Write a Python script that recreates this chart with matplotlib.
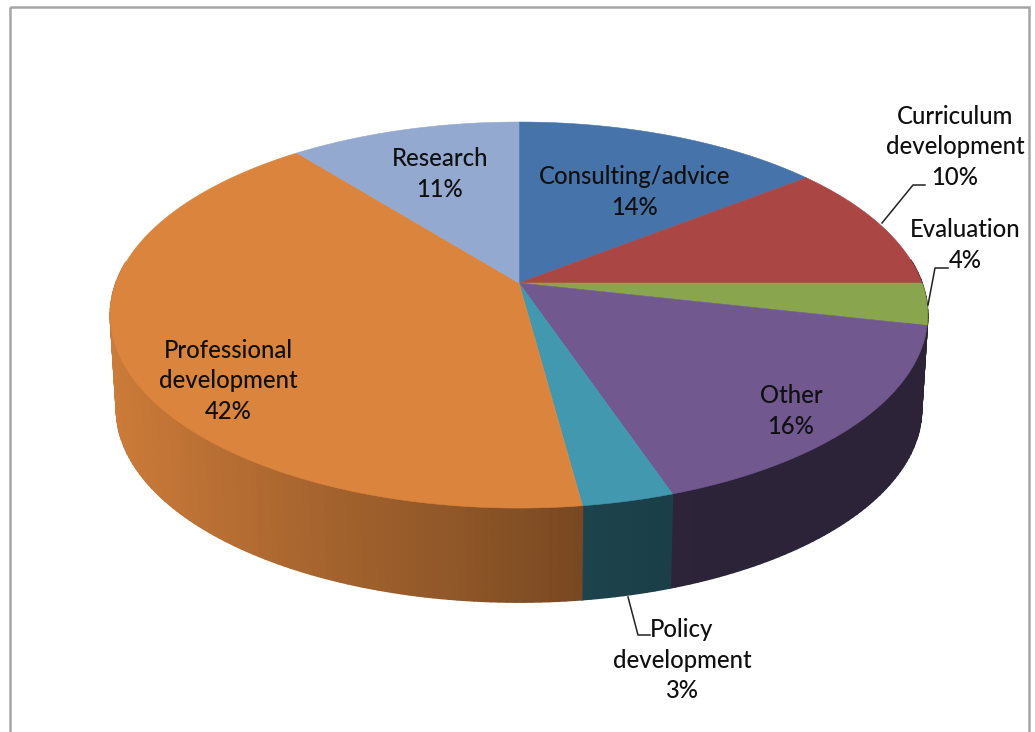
import numpy as np
import matplotlib
matplotlib.use("Agg")
import matplotlib.pyplot as plt
from matplotlib.collections import PolyCollection
from matplotlib.patches import Rectangle

categories = ["Consulting/advice", "Curriculum\ndevelopment", "Evaluation", "Other",
              "Policy\ndevelopment", "Professional\ndevelopment", "Research"]
percent_labels = [14, 10, 4, 16, 3, 42, 11]
# shares as measured from the slice sizes in the picture
shares = [14.4, 10.6, 3.5, 16.3, 3.1, 41.4, 10.7]

top_colors = ["#4674AA", "#AA4644", "#89A54E", "#71588F", "#4198AF", "#DB843D", "#93A9CF"]
label_pos = [(635, 192), (955, 147), (965, 245), (791, 411), (682, 660), (228, 381), (440, 174)]

# projection of the tilted disc into pixels
CX, CY = 519, 283
A, B, P = 403, 187.7, -0.166
DEPTH, BOTTOM_SCALE = 94, 0.985
FONT = "Lato"
FS = 17.2


def rim(theta):
    """theta in degrees, clockwise from the top of the disc."""
    t = np.radians(theta)
    u, v = np.sin(t), np.cos(t)
    d = 1 - P * v
    return CX + A * u / d, CY - B * v / d


def wall_shade(x):
    return np.interp(x, [110, 300, 450, 578, 584, 700, 930],
                     [0.93, 0.77, 0.66, 0.55, 0.44, 0.40, 0.40])


def hex_rgb(c):
    return np.array(matplotlib.colors.to_rgb(c))


fig = plt.figure(figsize=(10.35, 7.32), dpi=100, facecolor="white")
ax = fig.add_axes([0, 0, 1, 1])
ax.set_xlim(0, 1035)
ax.set_ylim(732, 0)
ax.axis("off")

# outer chart frame
ax.add_patch(Rectangle((10, 7), 1019, 740, fill=False, ec="#A6A6A6", lw=1.8, zorder=1))

edges = np.concatenate([[0], np.cumsum(shares)]) / np.sum(shares) * 360

# side walls, painted with overlap so no seams appear
for i, col in enumerate(top_colors):
    th = np.arange(edges[i], edges[i + 1], 1.0)
    th = np.append(th, edges[i + 1])
    polys, cols = [], []
    for a, b in zip(th[:-1], th[1:]):
        if np.cos(np.radians((a + b) / 2)) > 0.12:
            continue
        xa, ya = rim(a)
        xb, yb = rim(b)
        q = [(xa, ya), (xb, yb),
             (CX + (xb - CX) * BOTTOM_SCALE, yb + DEPTH),
             (CX + (xa - CX) * BOTTOM_SCALE, ya + DEPTH)]
        polys.append(q)
        cols.append(hex_rgb(col) * wall_shade((xa + xb) / 2))
    if polys:
        ax.add_collection(PolyCollection(polys, facecolors=cols, edgecolors=cols,
                                         linewidths=1.2, zorder=2))

# top faces
for i, col in enumerate(top_colors):
    th = np.linspace(edges[i], edges[i + 1], 200)
    xs, ys = rim(th)
    ax.fill(np.r_[CX, xs], np.r_[CY, ys], facecolor=col, edgecolor=col, lw=0.4, zorder=3)

# leader lines
for lx, ly in [([882, 913, 925], [223, 185, 185]),
               ([928, 935, 948], [305, 268, 268]),
               ([628, 638, 650], [597, 635, 635])]:
    ax.plot(lx, ly, color="#222222", lw=1.1, zorder=4)

# labels
for name, pct, (x, y) in zip(categories, percent_labels, label_pos):
    ax.text(x, y, f"{name}\n{pct}%", ha="center", va="center", multialignment="center",
            family=FONT, fontsize=FS, weight="medium", color="#101010", linespacing=1.42, zorder=5)

fig.savefig("out.png", dpi=100, facecolor="white")
